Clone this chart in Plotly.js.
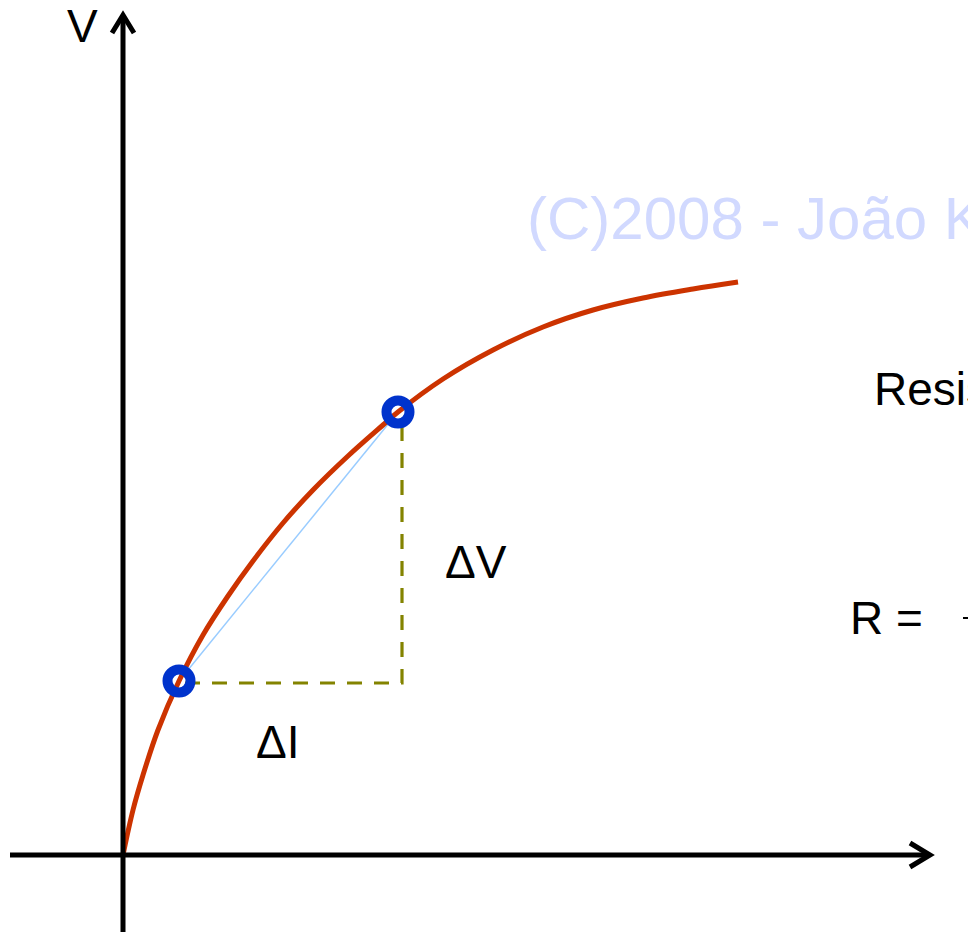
<!DOCTYPE html>
<html>
<head>
<meta charset="utf-8">
<script src="https://cdn.plot.ly/plotly-3.0.1.min.js"></script>
<style>html,body{margin:0;padding:0;background:#fff;overflow:hidden}#chart{width:968px;height:932px}</style>
</head>
<body>
<div id="chart"></div>
<script>
// V–I characteristic (arbitrary units; origin at axis crossing)
const curveI = [0, 10, 20, 35, 56, 80, 105, 130, 160, 190, 225, 260, 275, 320, 370, 420, 470, 520, 570, 615];
const curveV = [0, 45, 80, 125, 174, 220, 259, 294, 332, 365, 399, 430, 443, 476, 505, 528, 545, 557, 566, 573];

// two operating points
const pointI = [56, 275];
const pointV = [174, 443];

// ΔI / ΔV construction
const deltaI = [62, 279, 279];
const deltaV = [172, 172, 433];

const labels = ["V", "ΔV", "ΔI", "Resistência", "R =", "(C)2008 - João K"];

const traces = [
  {x: deltaI, y: deltaV, mode: "lines", line: {color: "#838300", width: 3.2, dash: "15px,12px"}, hoverinfo: "skip"},
  {x: pointI, y: pointV, mode: "lines", line: {color: "#99ccff", width: 1.5}, hoverinfo: "skip"},
  {x: curveI, y: curveV, mode: "lines", line: {color: "#cc3300", width: 5, shape: "spline", smoothing: 1}, hoverinfo: "skip"},
  {x: pointI, y: pointV, mode: "markers", marker: {symbol: "circle-open", size: 23, color: "#0033cc", line: {width: 10, color: "#0033cc"}}, hoverinfo: "skip"}
];

const F = "Liberation Sans, Arial, sans-serif";
const ann = (text, x, y, xanchor, color, size) => ({
  text, x, y, xref: "x", yref: "y", xanchor, yanchor: "middle", showarrow: false,
  font: {family: F, size: size || 46, color: color || "#000"}
});

const layout = {
  width: 968, height: 932,
  margin: {l: 0, r: 0, t: 0, b: 0, pad: 0},
  paper_bgcolor: "#fff", plot_bgcolor: "#fff",
  showlegend: false,
  xaxis: {range: [-123, 845], visible: false, fixedrange: true},
  yaxis: {range: [-77, 855], visible: false, fixedrange: true},
  shapes: [
    {type: "line", xref: "x", yref: "y", x0: 0, y0: -80, x1: 0, y1: 840, line: {color: "#000", width: 5}},
    {type: "path", xref: "x", yref: "y", path: "M -11,822 L 0,840 L 11,822", line: {color: "#000", width: 5}},
    {type: "line", xref: "x", yref: "y", x0: -113, y0: 0, x1: 807, y1: 0, line: {color: "#000", width: 5}},
    {type: "path", xref: "x", yref: "y", path: "M 787,12 L 807,0 L 787,-12", line: {color: "#000", width: 5}},
    {type: "line", xref: "x", yref: "y", x0: 840, y0: 237, x1: 850, y1: 237, line: {color: "#000", width: 2}}
  ],
  annotations: [
    ann(labels[5], 402, 637, "left", "#d1d9ff", 60),
    ann(labels[0], -41, 829, "center"),
    ann(labels[1], 353, 293, "center"),
    ann(labels[2], 155, 113, "center"),
    ann(labels[3], 749, 466, "left"),
    ann(labels[4], 725, 237, "left")
  ]
};

Plotly.newPlot("chart", traces, layout, {displayModeBar: false, staticPlot: true});
</script>
</body>
</html>
